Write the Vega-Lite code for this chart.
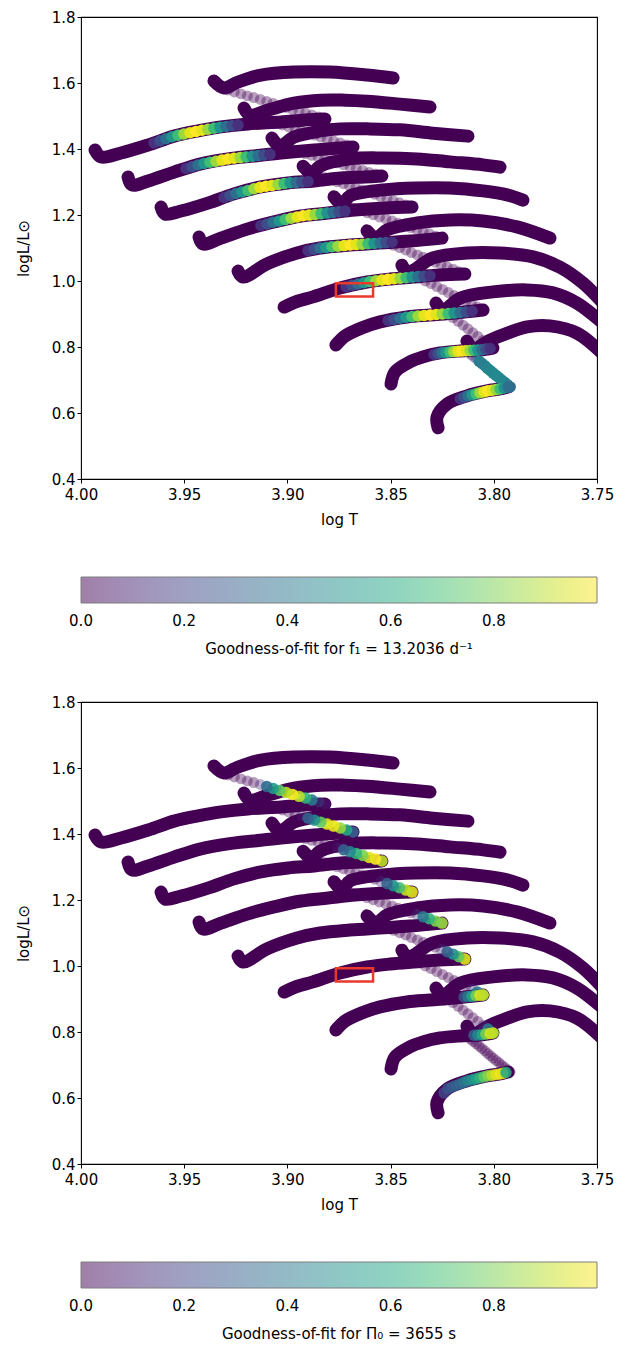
{
"$schema":"https://vega.github.io/schema/vega-lite/v6.json",
"background":"white",
"padding":{"left":15,"top":9,"right":18,"bottom":2},
"spacing":36,
"config":{"font":"DejaVu Sans","view":{"stroke":"black","strokeWidth":1.1},
"axis":{"domain":false,"grid":false,"tickColor":"black","tickSize":4,"tickWidth":1,"labelColor":"black","labelFontSize":15,"labelPadding":2,"labelFlush":false,"labelOverlap":false,"titleFontSize":15,"titleFontWeight":"normal","titleColor":"black"},
"axisX":{"titlePadding":10,"labelPadding":4},
"axisY":{"titlePadding":20},
"legend":{"labelFontSize":15,"titleFontSize":15,"titleFontWeight":"normal","labelColor":"black","titleColor":"black","titleLimit":700,"labelLimit":200}},
"datasets":{
"box":[{"T":3.8765,"T2":3.8585,"L":0.953,"L2":0.993}],
"pts":[
{"p":"L","s":"L1","i":0,"T":3.9932,"L":1.397},{"p":"L","s":"L1","i":1,"T":3.9903,"L":1.376},{"p":"L","s":"L1","i":2,"T":3.9806,"L":1.388},{"p":"L","s":"L1","i":3,"T":3.9675,"L":1.412},{"p":"L","s":"L1","i":4,"T":3.9549,"L":1.439},{"p":"L","s":"L1","i":5,"T":3.9433,"L":1.455},{"p":"L","s":"L1","i":6,"T":3.9322,"L":1.467},{"p":"L","s":"L1","i":7,"T":3.9191,"L":1.476},{"p":"L","s":"L1","i":8,"T":3.9031,"L":1.482},{"p":"L","s":"L1","i":9,"T":3.8915,"L":1.488},{"p":"L","s":"L1","i":10,"T":3.8818,"L":1.491},
{"p":"L","s":"L2","i":0,"T":3.9772,"L":1.315},{"p":"L","s":"L2","i":1,"T":3.9753,"L":1.291},{"p":"L","s":"L2","i":2,"T":3.9675,"L":1.303},{"p":"L","s":"L2","i":3,"T":3.9549,"L":1.330},{"p":"L","s":"L2","i":4,"T":3.9419,"L":1.355},{"p":"L","s":"L2","i":5,"T":3.9288,"L":1.370},{"p":"L","s":"L2","i":6,"T":3.9162,"L":1.379},{"p":"L","s":"L2","i":7,"T":3.9031,"L":1.388},{"p":"L","s":"L2","i":8,"T":3.8871,"L":1.397},{"p":"L","s":"L2","i":9,"T":3.8745,"L":1.403},{"p":"L","s":"L2","i":10,"T":3.8682,"L":1.406},
{"p":"L","s":"L3","i":0,"T":3.9612,"L":1.224},{"p":"L","s":"L3","i":1,"T":3.9593,"L":1.203},{"p":"L","s":"L3","i":2,"T":3.9516,"L":1.212},{"p":"L","s":"L3","i":3,"T":3.9385,"L":1.236},{"p":"L","s":"L3","i":4,"T":3.9259,"L":1.264},{"p":"L","s":"L3","i":5,"T":3.9128,"L":1.285},{"p":"L","s":"L3","i":6,"T":3.8997,"L":1.297},{"p":"L","s":"L3","i":7,"T":3.8871,"L":1.303},{"p":"L","s":"L3","i":8,"T":3.8740,"L":1.312},{"p":"L","s":"L3","i":9,"T":3.8624,"L":1.315},{"p":"L","s":"L3","i":10,"T":3.8542,"L":1.318},
{"p":"L","s":"L4","i":0,"T":3.9428,"L":1.133},{"p":"L","s":"L4","i":1,"T":3.9409,"L":1.112},{"p":"L","s":"L4","i":2,"T":3.9322,"L":1.130},{"p":"L","s":"L4","i":3,"T":3.9191,"L":1.158},{"p":"L","s":"L4","i":4,"T":3.9065,"L":1.179},{"p":"L","s":"L4","i":5,"T":3.8934,"L":1.197},{"p":"L","s":"L4","i":6,"T":3.8803,"L":1.206},{"p":"L","s":"L4","i":7,"T":3.8672,"L":1.215},{"p":"L","s":"L4","i":8,"T":3.8527,"L":1.221},{"p":"L","s":"L4","i":9,"T":3.8396,"L":1.224},
{"p":"L","s":"L5","i":0,"T":3.9239,"L":1.030},{"p":"L","s":"L5","i":1,"T":3.9215,"L":1.012},{"p":"L","s":"L5","i":2,"T":3.9099,"L":1.052},{"p":"L","s":"L5","i":3,"T":3.8953,"L":1.085},{"p":"L","s":"L5","i":4,"T":3.8842,"L":1.100},{"p":"L","s":"L5","i":5,"T":3.8697,"L":1.109},{"p":"L","s":"L5","i":6,"T":3.8551,"L":1.115},{"p":"L","s":"L5","i":7,"T":3.8406,"L":1.121},{"p":"L","s":"L5","i":8,"T":3.8251,"L":1.130},
{"p":"L","s":"L6","i":0,"T":3.9016,"L":0.921},{"p":"L","s":"L6","i":1,"T":3.8963,"L":0.936},{"p":"L","s":"L6","i":2,"T":3.8876,"L":0.952},{"p":"L","s":"L6","i":3,"T":3.8745,"L":0.979},{"p":"L","s":"L6","i":4,"T":3.8614,"L":0.997},{"p":"L","s":"L6","i":5,"T":3.8503,"L":1.006},{"p":"L","s":"L6","i":6,"T":3.8391,"L":1.012},{"p":"L","s":"L6","i":7,"T":3.8261,"L":1.018},{"p":"L","s":"L6","i":8,"T":3.8140,"L":1.021},
{"p":"L","s":"L7","i":0,"T":3.8765,"L":0.806},{"p":"L","s":"L7","i":1,"T":3.8721,"L":0.833},{"p":"L","s":"L7","i":2,"T":3.8639,"L":0.858},{"p":"L","s":"L7","i":3,"T":3.8551,"L":0.876},{"p":"L","s":"L7","i":4,"T":3.8421,"L":0.891},{"p":"L","s":"L7","i":5,"T":3.8309,"L":0.897},{"p":"L","s":"L7","i":6,"T":3.8188,"L":0.903},{"p":"L","s":"L7","i":7,"T":3.8052,"L":0.912},
{"p":"L","s":"L8","i":0,"T":3.8498,"L":0.688},{"p":"L","s":"L8","i":1,"T":3.8479,"L":0.724},{"p":"L","s":"L8","i":2,"T":3.8406,"L":0.755},{"p":"L","s":"L8","i":3,"T":3.8343,"L":0.770},{"p":"L","s":"L8","i":4,"T":3.8261,"L":0.782},{"p":"L","s":"L8","i":5,"T":3.8164,"L":0.788},{"p":"L","s":"L8","i":6,"T":3.8067,"L":0.791},{"p":"L","s":"L8","i":7,"T":3.8004,"L":0.797},
{"p":"L","s":"L9","i":0,"T":3.8270,"L":0.555},{"p":"L","s":"L9","i":1,"T":3.8275,"L":0.588},{"p":"L","s":"L9","i":2,"T":3.8227,"L":0.627},{"p":"L","s":"L9","i":3,"T":3.8130,"L":0.652},{"p":"L","s":"L9","i":4,"T":3.8033,"L":0.667},{"p":"L","s":"L9","i":5,"T":3.7970,"L":0.673},{"p":"L","s":"L9","i":6,"T":3.7931,"L":0.679},
{"p":"U","s":"U0","i":0,"T":3.9356,"L":1.606},{"p":"U","s":"U0","i":1,"T":3.9307,"L":1.585},{"p":"U","s":"U0","i":2,"T":3.9239,"L":1.603},{"p":"U","s":"U0","i":3,"T":3.9128,"L":1.624},{"p":"U","s":"U0","i":4,"T":3.8968,"L":1.633},{"p":"U","s":"U0","i":5,"T":3.8794,"L":1.633},{"p":"U","s":"U0","i":6,"T":3.8614,"L":1.624},{"p":"U","s":"U0","i":7,"T":3.8488,"L":1.615},
{"p":"U","s":"U1","i":0,"T":3.9210,"L":1.524},{"p":"U","s":"U1","i":1,"T":3.9181,"L":1.503},{"p":"U","s":"U1","i":2,"T":3.9094,"L":1.518},{"p":"U","s":"U1","i":3,"T":3.8968,"L":1.539},{"p":"U","s":"U1","i":4,"T":3.8837,"L":1.548},{"p":"U","s":"U1","i":5,"T":3.8721,"L":1.548},{"p":"U","s":"U1","i":6,"T":3.8614,"L":1.545},{"p":"U","s":"U1","i":7,"T":3.8454,"L":1.536},{"p":"U","s":"U1","i":8,"T":3.8309,"L":1.527},
{"p":"U","s":"U2","i":0,"T":3.9075,"L":1.433},{"p":"U","s":"U2","i":1,"T":3.9036,"L":1.409},{"p":"U","s":"U2","i":2,"T":3.8968,"L":1.436},{"p":"U","s":"U2","i":3,"T":3.8837,"L":1.455},{"p":"U","s":"U2","i":4,"T":3.8745,"L":1.461},{"p":"U","s":"U2","i":5,"T":3.8614,"L":1.461},{"p":"U","s":"U2","i":6,"T":3.8454,"L":1.458},{"p":"U","s":"U2","i":7,"T":3.8295,"L":1.448},{"p":"U","s":"U2","i":8,"T":3.8125,"L":1.439},
{"p":"U","s":"U3","i":0,"T":3.8924,"L":1.348},{"p":"U","s":"U3","i":1,"T":3.8881,"L":1.327},{"p":"U","s":"U3","i":2,"T":3.8842,"L":1.348},{"p":"U","s":"U3","i":3,"T":3.8697,"L":1.370},{"p":"U","s":"U3","i":4,"T":3.8537,"L":1.373},{"p":"U","s":"U3","i":5,"T":3.8372,"L":1.370},{"p":"U","s":"U3","i":6,"T":3.8212,"L":1.361},{"p":"U","s":"U3","i":7,"T":3.8052,"L":1.352},{"p":"U","s":"U3","i":8,"T":3.7970,"L":1.345},
{"p":"U","s":"U4","i":0,"T":3.8774,"L":1.255},{"p":"U","s":"U4","i":1,"T":3.8735,"L":1.233},{"p":"U","s":"U4","i":2,"T":3.8697,"L":1.258},{"p":"U","s":"U4","i":3,"T":3.8537,"L":1.276},{"p":"U","s":"U4","i":4,"T":3.8372,"L":1.282},{"p":"U","s":"U4","i":5,"T":3.8212,"L":1.282},{"p":"U","s":"U4","i":6,"T":3.8052,"L":1.273},{"p":"U","s":"U4","i":7,"T":3.7936,"L":1.261},{"p":"U","s":"U4","i":8,"T":3.7859,"L":1.245},
{"p":"U","s":"U5","i":0,"T":3.8614,"L":1.152},{"p":"U","s":"U5","i":1,"T":3.8571,"L":1.130},{"p":"U","s":"U5","i":2,"T":3.8517,"L":1.155},{"p":"U","s":"U5","i":3,"T":3.8372,"L":1.176},{"p":"U","s":"U5","i":4,"T":3.8212,"L":1.185},{"p":"U","s":"U5","i":5,"T":3.8052,"L":1.182},{"p":"U","s":"U5","i":6,"T":3.7888,"L":1.164},{"p":"U","s":"U5","i":7,"T":3.7728,"L":1.130},
{"p":"U","s":"U6","i":0,"T":3.8445,"L":1.048},{"p":"U","s":"U6","i":1,"T":3.8416,"L":1.027},{"p":"U","s":"U6","i":2,"T":3.8295,"L":1.070},{"p":"U","s":"U6","i":3,"T":3.8130,"L":1.085},{"p":"U","s":"U6","i":4,"T":3.7970,"L":1.085},{"p":"U","s":"U6","i":5,"T":3.7810,"L":1.073},{"p":"U","s":"U6","i":6,"T":3.7679,"L":1.042},{"p":"U","s":"U6","i":7,"T":3.7568,"L":0.994},{"p":"U","s":"U6","i":8,"T":3.7461,"L":0.927},
{"p":"U","s":"U7","i":0,"T":3.8280,"L":0.933},{"p":"U","s":"U7","i":1,"T":3.8246,"L":0.912},{"p":"U","s":"U7","i":2,"T":3.8164,"L":0.948},{"p":"U","s":"U7","i":3,"T":3.8004,"L":0.967},{"p":"U","s":"U7","i":4,"T":3.7839,"L":0.973},{"p":"U","s":"U7","i":5,"T":3.7713,"L":0.964},{"p":"U","s":"U7","i":6,"T":3.7597,"L":0.933},{"p":"U","s":"U7","i":7,"T":3.7461,"L":0.867},
{"p":"U","s":"U8","i":0,"T":3.8130,"L":0.818},{"p":"U","s":"U8","i":1,"T":3.8096,"L":0.797},{"p":"U","s":"U8","i":2,"T":3.8018,"L":0.821},{"p":"U","s":"U8","i":3,"T":3.7946,"L":0.839},{"p":"U","s":"U8","i":4,"T":3.7839,"L":0.861},{"p":"U","s":"U8","i":5,"T":3.7728,"L":0.864},{"p":"U","s":"U8","i":6,"T":3.7597,"L":0.842},{"p":"U","s":"U8","i":7,"T":3.7461,"L":0.773},
{"p":"D","T":3.8818,"L":1.491,"f1":0,"f2":0.1},{"p":"D","T":3.8849,"L":1.497,"f1":0,"f2":0.25},{"p":"D","T":3.8881,"L":1.503,"f1":0,"f2":0.4},{"p":"D","T":3.8912,"L":1.509,"f1":0,"f2":0.65},{"p":"D","T":3.8943,"L":1.514,"f1":0,"f2":0.9},{"p":"D","T":3.8975,"L":1.520,"f1":0,"f2":0.98},{"p":"D","T":3.9006,"L":1.526,"f1":0,"f2":0.9},{"p":"D","T":3.9037,"L":1.532,"f1":0,"f2":0.75},{"p":"D","T":3.9069,"L":1.538,"f1":0,"f2":0.55},{"p":"D","T":3.9100,"L":1.544,"f1":0,"f2":0.35},{"p":"D","T":3.9131,"L":1.550,"f1":0,"f2":0.15},{"p":"D","T":3.9163,"L":1.556,"f1":0,"f2":0},{"p":"D","T":3.9194,"L":1.561,"f1":0,"f2":0},{"p":"D","T":3.9225,"L":1.567,"f1":0,"f2":0},{"p":"D","T":3.9257,"L":1.573,"f1":0,"f2":0},{"p":"D","T":3.9288,"L":1.579,"f1":0,"f2":0},
{"p":"D","T":3.8682,"L":1.406,"f1":0,"f2":0.3},{"p":"D","T":3.8713,"L":1.412,"f1":0,"f2":0.6},{"p":"D","T":3.8744,"L":1.418,"f1":0,"f2":0.85},{"p":"D","T":3.8776,"L":1.424,"f1":0,"f2":0.97},{"p":"D","T":3.8807,"L":1.430,"f1":0,"f2":0.95},{"p":"D","T":3.8838,"L":1.436,"f1":0,"f2":0.75},{"p":"D","T":3.8869,"L":1.442,"f1":0,"f2":0.5},{"p":"D","T":3.8900,"L":1.448,"f1":0,"f2":0.3},{"p":"D","T":3.8932,"L":1.455,"f1":0,"f2":0.12},{"p":"D","T":3.8963,"L":1.461,"f1":0,"f2":0},{"p":"D","T":3.8994,"L":1.467,"f1":0,"f2":0},{"p":"D","T":3.9025,"L":1.473,"f1":0,"f2":0},{"p":"D","T":3.9056,"L":1.479,"f1":0,"f2":0},{"p":"D","T":3.9087,"L":1.485,"f1":0,"f2":0},{"p":"D","T":3.9119,"L":1.491,"f1":0,"f2":0},{"p":"D","T":3.9150,"L":1.497,"f1":0,"f2":0},{"p":"D","T":3.9181,"L":1.503,"f1":0,"f2":0},
{"p":"D","T":3.8542,"L":1.318,"f1":0,"f2":0.9},{"p":"D","T":3.8573,"L":1.324,"f1":0,"f2":1.0},{"p":"D","T":3.8604,"L":1.329,"f1":0,"f2":0.95},{"p":"D","T":3.8635,"L":1.335,"f1":0,"f2":0.8},{"p":"D","T":3.8666,"L":1.341,"f1":0,"f2":0.65},{"p":"D","T":3.8696,"L":1.346,"f1":0,"f2":0.45},{"p":"D","T":3.8727,"L":1.352,"f1":0,"f2":0.3},{"p":"D","T":3.8758,"L":1.358,"f1":0,"f2":0.12},{"p":"D","T":3.8789,"L":1.364,"f1":0,"f2":0},{"p":"D","T":3.8820,"L":1.369,"f1":0,"f2":0},{"p":"D","T":3.8851,"L":1.375,"f1":0,"f2":0},{"p":"D","T":3.8882,"L":1.381,"f1":0,"f2":0},{"p":"D","T":3.8913,"L":1.386,"f1":0,"f2":0},{"p":"D","T":3.8943,"L":1.392,"f1":0,"f2":0},{"p":"D","T":3.8974,"L":1.398,"f1":0,"f2":0},{"p":"D","T":3.9005,"L":1.403,"f1":0,"f2":0},{"p":"D","T":3.9036,"L":1.409,"f1":0,"f2":0},
{"p":"D","T":3.8396,"L":1.224,"f1":0,"f2":0.95},{"p":"D","T":3.8426,"L":1.230,"f1":0,"f2":0.9},{"p":"D","T":3.8457,"L":1.237,"f1":0,"f2":0.7},{"p":"D","T":3.8487,"L":1.243,"f1":0,"f2":0.5},{"p":"D","T":3.8517,"L":1.250,"f1":0,"f2":0.3},{"p":"D","T":3.8548,"L":1.256,"f1":0,"f2":0.15},{"p":"D","T":3.8578,"L":1.263,"f1":0,"f2":0},{"p":"D","T":3.8608,"L":1.269,"f1":0,"f2":0},{"p":"D","T":3.8638,"L":1.276,"f1":0,"f2":0},{"p":"D","T":3.8669,"L":1.282,"f1":0,"f2":0},{"p":"D","T":3.8699,"L":1.288,"f1":0,"f2":0},{"p":"D","T":3.8729,"L":1.295,"f1":0,"f2":0},{"p":"D","T":3.8760,"L":1.301,"f1":0,"f2":0},{"p":"D","T":3.8790,"L":1.308,"f1":0,"f2":0},{"p":"D","T":3.8820,"L":1.314,"f1":0,"f2":0},{"p":"D","T":3.8851,"L":1.321,"f1":0,"f2":0},{"p":"D","T":3.8881,"L":1.327,"f1":0,"f2":0},
{"p":"D","T":3.8251,"L":1.130,"f1":0,"f2":0.85},{"p":"D","T":3.8281,"L":1.136,"f1":0,"f2":0.8},{"p":"D","T":3.8312,"L":1.143,"f1":0,"f2":0.65},{"p":"D","T":3.8342,"L":1.149,"f1":0,"f2":0.4},{"p":"D","T":3.8372,"L":1.156,"f1":0,"f2":0.2},{"p":"D","T":3.8402,"L":1.162,"f1":0,"f2":0},{"p":"D","T":3.8433,"L":1.169,"f1":0,"f2":0},{"p":"D","T":3.8463,"L":1.175,"f1":0,"f2":0},{"p":"D","T":3.8493,"L":1.182,"f1":0,"f2":0},{"p":"D","T":3.8523,"L":1.188,"f1":0,"f2":0},{"p":"D","T":3.8554,"L":1.194,"f1":0,"f2":0},{"p":"D","T":3.8584,"L":1.201,"f1":0,"f2":0},{"p":"D","T":3.8614,"L":1.207,"f1":0,"f2":0},{"p":"D","T":3.8644,"L":1.214,"f1":0,"f2":0},{"p":"D","T":3.8675,"L":1.220,"f1":0,"f2":0},{"p":"D","T":3.8705,"L":1.227,"f1":0,"f2":0},{"p":"D","T":3.8735,"L":1.233,"f1":0,"f2":0},
{"p":"D","T":3.8140,"L":1.021,"f1":0,"f2":0.95},{"p":"D","T":3.8169,"L":1.028,"f1":0,"f2":0.75},{"p":"D","T":3.8197,"L":1.036,"f1":0,"f2":0.5},{"p":"D","T":3.8226,"L":1.043,"f1":0,"f2":0.3},{"p":"D","T":3.8255,"L":1.050,"f1":0,"f2":0.15},{"p":"D","T":3.8284,"L":1.057,"f1":0,"f2":0},{"p":"D","T":3.8312,"L":1.065,"f1":0,"f2":0},{"p":"D","T":3.8341,"L":1.072,"f1":0,"f2":0},{"p":"D","T":3.8370,"L":1.079,"f1":0,"f2":0},{"p":"D","T":3.8399,"L":1.086,"f1":0,"f2":0},{"p":"D","T":3.8427,"L":1.094,"f1":0,"f2":0},{"p":"D","T":3.8456,"L":1.101,"f1":0,"f2":0},{"p":"D","T":3.8485,"L":1.108,"f1":0,"f2":0},{"p":"D","T":3.8514,"L":1.115,"f1":0,"f2":0},{"p":"D","T":3.8542,"L":1.123,"f1":0,"f2":0},{"p":"D","T":3.8571,"L":1.130,"f1":0,"f2":0},
{"p":"D","T":3.8052,"L":0.912,"f1":0,"f2":0.8},{"p":"D","T":3.8080,"L":0.921,"f1":0,"f2":0.4},{"p":"D","T":3.8108,"L":0.930,"f1":0,"f2":0.15},{"p":"D","T":3.8136,"L":0.939,"f1":0,"f2":0},{"p":"D","T":3.8164,"L":0.947,"f1":0,"f2":0},{"p":"D","T":3.8192,"L":0.956,"f1":0,"f2":0},{"p":"D","T":3.8220,"L":0.965,"f1":0,"f2":0},{"p":"D","T":3.8248,"L":0.974,"f1":0,"f2":0},{"p":"D","T":3.8276,"L":0.983,"f1":0,"f2":0},{"p":"D","T":3.8304,"L":0.992,"f1":0,"f2":0},{"p":"D","T":3.8332,"L":1.000,"f1":0,"f2":0},{"p":"D","T":3.8360,"L":1.009,"f1":0,"f2":0},{"p":"D","T":3.8388,"L":1.018,"f1":0,"f2":0},{"p":"D","T":3.8416,"L":1.027,"f1":0,"f2":0},
{"p":"D","T":3.8004,"L":0.797,"f1":0,"f2":0.8},{"p":"D","T":3.8028,"L":0.809,"f1":0,"f2":0.4},{"p":"D","T":3.8052,"L":0.820,"f1":0,"f2":0.15},{"p":"D","T":3.8077,"L":0.832,"f1":0,"f2":0},{"p":"D","T":3.8101,"L":0.843,"f1":0,"f2":0},{"p":"D","T":3.8125,"L":0.855,"f1":0,"f2":0},{"p":"D","T":3.8149,"L":0.866,"f1":0,"f2":0},{"p":"D","T":3.8173,"L":0.878,"f1":0,"f2":0},{"p":"D","T":3.8198,"L":0.889,"f1":0,"f2":0},{"p":"D","T":3.8222,"L":0.901,"f1":0,"f2":0},{"p":"D","T":3.8246,"L":0.912,"f1":0,"f2":0},
{"p":"D","T":3.7921,"L":0.679,"f1":0.33,"f2":0},{"p":"D","T":3.7935,"L":0.686,"f1":0.38,"f2":0},{"p":"D","T":3.7948,"L":0.693,"f1":0.42,"f2":0},{"p":"D","T":3.7962,"L":0.700,"f1":0.45,"f2":0},{"p":"D","T":3.7975,"L":0.707,"f1":0.46,"f2":0},{"p":"D","T":3.7989,"L":0.714,"f1":0.47,"f2":0},{"p":"D","T":3.8003,"L":0.721,"f1":0.47,"f2":0},{"p":"D","T":3.8016,"L":0.728,"f1":0.47,"f2":0},{"p":"D","T":3.8030,"L":0.735,"f1":0.46,"f2":0},{"p":"D","T":3.8043,"L":0.743,"f1":0.45,"f2":0},{"p":"D","T":3.8057,"L":0.750,"f1":0.44,"f2":0},{"p":"D","T":3.8071,"L":0.757,"f1":0.42,"f2":0},{"p":"D","T":3.8084,"L":0.764,"f1":0.2,"f2":0},{"p":"D","T":3.8098,"L":0.771,"f1":0.15,"f2":0},{"p":"D","T":3.8111,"L":0.778,"f1":0.1,"f2":0},{"p":"D","T":3.8125,"L":0.785,"f1":0.05,"f2":0},
{"p":"H1","T":3.9646,"L":1.4185,"f1":0.135},{"p":"H1","T":3.9617,"L":1.4248,"f1":0.23},{"p":"H1","T":3.9588,"L":1.4309,"f1":0.36},{"p":"H1","T":3.9559,"L":1.4373,"f1":0.52},{"p":"H1","T":3.9530,"L":1.4418,"f1":0.69},{"p":"H1","T":3.9501,"L":1.4458,"f1":0.85},{"p":"H1","T":3.9472,"L":1.4494,"f1":0.96},{"p":"H1","T":3.9443,"L":1.4533,"f1":1.0},{"p":"H1","T":3.9414,"L":1.4567,"f1":0.96},{"p":"H1","T":3.9385,"L":1.4597,"f1":0.85},{"p":"H1","T":3.9356,"L":1.4627,"f1":0.69},{"p":"H1","T":3.9327,"L":1.4661,"f1":0.52},{"p":"H1","T":3.9297,"L":1.4685,"f1":0.36},{"p":"H1","T":3.9268,"L":1.4703,"f1":0.23},{"p":"H1","T":3.9239,"L":1.4724,"f1":0.135},
{"p":"H1","T":3.9491,"L":1.3412,"f1":0.135},{"p":"H1","T":3.9462,"L":1.3464,"f1":0.23},{"p":"H1","T":3.9433,"L":1.3518,"f1":0.36},{"p":"H1","T":3.9404,"L":1.3564,"f1":0.52},{"p":"H1","T":3.9375,"L":1.3597,"f1":0.69},{"p":"H1","T":3.9346,"L":1.3630,"f1":0.85},{"p":"H1","T":3.9317,"L":1.3664,"f1":0.96},{"p":"H1","T":3.9288,"L":1.3697,"f1":1.0},{"p":"H1","T":3.9259,"L":1.3718,"f1":0.96},{"p":"H1","T":3.9229,"L":1.3739,"f1":0.85},{"p":"H1","T":3.9200,"L":1.3760,"f1":0.69},{"p":"H1","T":3.9171,"L":1.3782,"f1":0.52},{"p":"H1","T":3.9142,"L":1.3800,"f1":0.36},{"p":"H1","T":3.9113,"L":1.3821,"f1":0.23},{"p":"H1","T":3.9084,"L":1.3842,"f1":0.135},
{"p":"H1","T":3.9307,"L":1.2530,"f1":0.135},{"p":"H1","T":3.9278,"L":1.2594,"f1":0.23},{"p":"H1","T":3.9249,"L":1.2652,"f1":0.36},{"p":"H1","T":3.9220,"L":1.2700,"f1":0.52},{"p":"H1","T":3.9191,"L":1.2745,"f1":0.69},{"p":"H1","T":3.9162,"L":1.2794,"f1":0.85},{"p":"H1","T":3.9133,"L":1.2839,"f1":0.96},{"p":"H1","T":3.9104,"L":1.2870,"f1":1.0},{"p":"H1","T":3.9075,"L":1.2897,"f1":0.96},{"p":"H1","T":3.9045,"L":1.2924,"f1":0.85},{"p":"H1","T":3.9016,"L":1.2951,"f1":0.69},{"p":"H1","T":3.8987,"L":1.2976,"f1":0.52},{"p":"H1","T":3.8958,"L":1.2988,"f1":0.36},{"p":"H1","T":3.8929,"L":1.3003,"f1":0.23},{"p":"H1","T":3.8900,"L":1.3015,"f1":0.135},
{"p":"H1","T":3.9128,"L":1.1682,"f1":0.135},{"p":"H1","T":3.9099,"L":1.1730,"f1":0.23},{"p":"H1","T":3.9070,"L":1.1779,"f1":0.36},{"p":"H1","T":3.9040,"L":1.1821,"f1":0.52},{"p":"H1","T":3.9011,"L":1.1861,"f1":0.69},{"p":"H1","T":3.8982,"L":1.1903,"f1":0.85},{"p":"H1","T":3.8953,"L":1.1942,"f1":0.96},{"p":"H1","T":3.8924,"L":1.1976,"f1":1.0},{"p":"H1","T":3.8895,"L":1.1997,"f1":0.96},{"p":"H1","T":3.8866,"L":1.2018,"f1":0.85},{"p":"H1","T":3.8837,"L":1.2036,"f1":0.69},{"p":"H1","T":3.8808,"L":1.2058,"f1":0.52},{"p":"H1","T":3.8779,"L":1.2079,"f1":0.36},{"p":"H1","T":3.8750,"L":1.2097,"f1":0.23},{"p":"H1","T":3.8721,"L":1.2118,"f1":0.135},
{"p":"H1","T":3.8900,"L":1.0921,"f1":0.135},{"p":"H1","T":3.8871,"L":1.0961,"f1":0.23},{"p":"H1","T":3.8842,"L":1.1000,"f1":0.36},{"p":"H1","T":3.8813,"L":1.1018,"f1":0.52},{"p":"H1","T":3.8784,"L":1.1036,"f1":0.69},{"p":"H1","T":3.8755,"L":1.1055,"f1":0.85},{"p":"H1","T":3.8725,"L":1.1073,"f1":0.96},{"p":"H1","T":3.8696,"L":1.1091,"f1":1.0},{"p":"H1","T":3.8667,"L":1.1103,"f1":0.96},{"p":"H1","T":3.8638,"L":1.1115,"f1":0.85},{"p":"H1","T":3.8609,"L":1.1127,"f1":0.69},{"p":"H1","T":3.8580,"L":1.1139,"f1":0.52},{"p":"H1","T":3.8551,"L":1.1152,"f1":0.36},{"p":"H1","T":3.8522,"L":1.1164,"f1":0.23},{"p":"H1","T":3.8493,"L":1.1176,"f1":0.135},
{"p":"H1","T":3.8716,"L":0.9827,"f1":0.135},{"p":"H1","T":3.8687,"L":0.9870,"f1":0.23},{"p":"H1","T":3.8658,"L":0.9909,"f1":0.36},{"p":"H1","T":3.8629,"L":0.9948,"f1":0.52},{"p":"H1","T":3.8600,"L":0.9982,"f1":0.69},{"p":"H1","T":3.8571,"L":1.0006,"f1":0.85},{"p":"H1","T":3.8542,"L":1.0030,"f1":0.96},{"p":"H1","T":3.8513,"L":1.0051,"f1":1.0},{"p":"H1","T":3.8483,"L":1.0070,"f1":0.96},{"p":"H1","T":3.8454,"L":1.0085,"f1":0.85},{"p":"H1","T":3.8425,"L":1.0100,"f1":0.69},{"p":"H1","T":3.8396,"L":1.0118,"f1":0.52},{"p":"H1","T":3.8367,"L":1.0133,"f1":0.36},{"p":"H1","T":3.8338,"L":1.0145,"f1":0.23},{"p":"H1","T":3.8309,"L":1.0161,"f1":0.135},
{"p":"H1","T":3.8512,"L":0.8803,"f1":0.135},{"p":"H1","T":3.8483,"L":0.8836,"f1":0.23},{"p":"H1","T":3.8454,"L":0.8870,"f1":0.36},{"p":"H1","T":3.8425,"L":0.8903,"f1":0.52},{"p":"H1","T":3.8396,"L":0.8921,"f1":0.69},{"p":"H1","T":3.8367,"L":0.8939,"f1":0.85},{"p":"H1","T":3.8338,"L":0.8954,"f1":0.96},{"p":"H1","T":3.8308,"L":0.8970,"f1":1.0},{"p":"H1","T":3.8279,"L":0.8985,"f1":0.96},{"p":"H1","T":3.8250,"L":0.9000,"f1":0.85},{"p":"H1","T":3.8221,"L":0.9012,"f1":0.69},{"p":"H1","T":3.8192,"L":0.9027,"f1":0.52},{"p":"H1","T":3.8163,"L":0.9045,"f1":0.36},{"p":"H1","T":3.8134,"L":0.9063,"f1":0.23},{"p":"H1","T":3.8105,"L":0.9084,"f1":0.135},
{"p":"H1","T":3.8289,"L":0.7776,"f1":0.135},{"p":"H1","T":3.8270,"L":0.7803,"f1":0.23},{"p":"H1","T":3.8251,"L":0.7824,"f1":0.36},{"p":"H1","T":3.8232,"L":0.7836,"f1":0.52},{"p":"H1","T":3.8212,"L":0.7849,"f1":0.69},{"p":"H1","T":3.8193,"L":0.7861,"f1":0.85},{"p":"H1","T":3.8173,"L":0.7873,"f1":0.96},{"p":"H1","T":3.8154,"L":0.7882,"f1":1.0},{"p":"H1","T":3.8135,"L":0.7888,"f1":0.96},{"p":"H1","T":3.8115,"L":0.7894,"f1":0.85},{"p":"H1","T":3.8096,"L":0.7900,"f1":0.69},{"p":"H1","T":3.8077,"L":0.7906,"f1":0.52},{"p":"H1","T":3.8057,"L":0.7918,"f1":0.36},{"p":"H1","T":3.8038,"L":0.7936,"f1":0.23},{"p":"H1","T":3.8018,"L":0.7954,"f1":0.135},
{"p":"H1","T":3.8163,"L":0.6430,"f1":0.135},{"p":"H1","T":3.8144,"L":0.6479,"f1":0.23},{"p":"H1","T":3.8125,"L":0.6521,"f1":0.36},{"p":"H1","T":3.8105,"L":0.6551,"f1":0.52},{"p":"H1","T":3.8086,"L":0.6582,"f1":0.69},{"p":"H1","T":3.8067,"L":0.6612,"f1":0.85},{"p":"H1","T":3.8047,"L":0.6642,"f1":0.96},{"p":"H1","T":3.8028,"L":0.6673,"f1":1.0},{"p":"H1","T":3.8008,"L":0.6691,"f1":0.96},{"p":"H1","T":3.7989,"L":0.6709,"f1":0.85},{"p":"H1","T":3.7970,"L":0.6727,"f1":0.69},{"p":"H1","T":3.7950,"L":0.6758,"f1":0.52},{"p":"H1","T":3.7931,"L":0.6788,"f1":0.36},
{"p":"H2","T":3.8144,"L":0.9061,"f2":0.25},{"p":"H2","T":3.8125,"L":0.9073,"f2":0.4},{"p":"H2","T":3.8105,"L":0.9084,"f2":0.6},{"p":"H2","T":3.8086,"L":0.9100,"f2":0.8},{"p":"H2","T":3.8067,"L":0.9112,"f2":0.95},{"p":"H2","T":3.8052,"L":0.9121,"f2":0.9},
{"p":"H2","T":3.8096,"L":0.7900,"f2":0.3},{"p":"H2","T":3.8077,"L":0.7906,"f2":0.45},{"p":"H2","T":3.8057,"L":0.7918,"f2":0.6},{"p":"H2","T":3.8038,"L":0.7936,"f2":0.8},{"p":"H2","T":3.8018,"L":0.7954,"f2":0.95},{"p":"H2","T":3.8004,"L":0.7970,"f2":0.9},
{"p":"H2","T":3.8241,"L":0.6155,"f2":0.2},{"p":"H2","T":3.8222,"L":0.6285,"f2":0.25},{"p":"H2","T":3.8202,"L":0.6333,"f2":0.28},{"p":"H2","T":3.8183,"L":0.6382,"f2":0.3},{"p":"H2","T":3.8163,"L":0.6430,"f2":0.33},{"p":"H2","T":3.8144,"L":0.6479,"f2":0.38},{"p":"H2","T":3.8125,"L":0.6521,"f2":0.45},{"p":"H2","T":3.8105,"L":0.6551,"f2":0.5},{"p":"H2","T":3.8086,"L":0.6582,"f2":0.58},{"p":"H2","T":3.8067,"L":0.6612,"f2":0.65},{"p":"H2","T":3.8047,"L":0.6642,"f2":0.75},{"p":"H2","T":3.8028,"L":0.6673,"f2":0.82},{"p":"H2","T":3.8008,"L":0.6691,"f2":0.9},{"p":"H2","T":3.7989,"L":0.6709,"f2":0.95},{"p":"H2","T":3.7970,"L":0.6727,"f2":0.98},{"p":"H2","T":3.7955,"L":0.6748,"f2":0.95},{"p":"H2","T":3.7941,"L":0.6773,"f2":0.6}
]},
"resolve":{"scale":{"color":"independent","x":"independent","y":"independent"}},
"vconcat":[
{"width":516,"height":462,
"encoding":{"x":{"field":"T","type":"quantitative","scale":{"domain":[3.75,4.0],"reverse":true,"nice":false,"zero":false},"axis":{"title":"log T","values":[4.0,3.95,3.9,3.85,3.8,3.75],"format":".2f"}},
"y":{"field":"L","type":"quantitative","scale":{"domain":[0.4,1.8],"nice":false,"zero":false},"axis":{"title":"logL/L⊙","values":[0.4,0.6,0.8,1.0,1.2,1.4,1.6,1.8],"format":".1f"}}},
"layer":[
{"data":{"name":"pts"},"transform":[{"filter":"datum.p==='L'||datum.p==='U'"}],"mark":{"type":"line","color":"#440154","strokeWidth":13,"strokeCap":"round","strokeJoin":"round","interpolate":"catmull-rom","clip":true},"encoding":{"detail":{"field":"s","type":"nominal"},"order":{"field":"i","type":"quantitative"}}},
{"data":{"name":"pts"},"transform":[{"filter":"datum.p==='D'"}],"mark":{"type":"circle","size":120,"opacity":0.38,"clip":true},"encoding":{"color":{"field":"f1","type":"quantitative","scale":{"scheme":"viridis","domain":[0,1]},"legend":{"title":"Goodness-of-fit for f₁ = 13.2036 d⁻¹","orient":"bottom","direction":"horizontal","gradientLength":516,"gradientThickness":26,"gradientOpacity":0.5,"gradientStrokeColor":"black","gradientStrokeWidth":1,"values":[0,0.2,0.4,0.6,0.8],"format":".1f","labelOverlap":false,"labelOffset":11,"titleOrient":"bottom","titleAnchor":"middle","titlePadding":13,"offset":50,"encode":{"labels":{"update":{"align":{"value":"center"}}}}}}}},
{"data":{"name":"pts"},"transform":[{"filter":"datum.p==='H1'||(datum.p==='D'&&datum.f1>0.25)"}],"mark":{"type":"circle","size":132,"opacity":1,"clip":true},"encoding":{"color":{"field":"f1","type":"quantitative","scale":{"scheme":"viridis","domain":[0,1]},"legend":{"title":"Goodness-of-fit for f₁ = 13.2036 d⁻¹","orient":"bottom","direction":"horizontal","gradientLength":516,"gradientThickness":26,"gradientOpacity":0.5,"gradientStrokeColor":"black","gradientStrokeWidth":1,"values":[0,0.2,0.4,0.6,0.8],"format":".1f","labelOverlap":false,"labelOffset":11,"titleOrient":"bottom","titleAnchor":"middle","titlePadding":13,"offset":50,"encode":{"labels":{"update":{"align":{"value":"center"}}}}}}}},
{"data":{"name":"box"},"mark":{"type":"rect","filled":false,"stroke":"#e8392b","strokeWidth":2.5},"encoding":{"x2":{"field":"T2"},"y2":{"field":"L2"}}}
]},
{"width":516,"height":462,
"encoding":{"x":{"field":"T","type":"quantitative","scale":{"domain":[3.75,4.0],"reverse":true,"nice":false,"zero":false},"axis":{"title":"log T","values":[4.0,3.95,3.9,3.85,3.8,3.75],"format":".2f"}},
"y":{"field":"L","type":"quantitative","scale":{"domain":[0.4,1.8],"nice":false,"zero":false},"axis":{"title":"logL/L⊙","values":[0.4,0.6,0.8,1.0,1.2,1.4,1.6,1.8],"format":".1f"}}},
"layer":[
{"data":{"name":"pts"},"transform":[{"filter":"datum.p==='L'||datum.p==='U'"}],"mark":{"type":"line","color":"#440154","strokeWidth":13,"strokeCap":"round","strokeJoin":"round","interpolate":"catmull-rom","clip":true},"encoding":{"detail":{"field":"s","type":"nominal"},"order":{"field":"i","type":"quantitative"}}},
{"data":{"name":"pts"},"transform":[{"filter":"datum.p==='D'"}],"mark":{"type":"circle","size":120,"opacity":0.38,"clip":true},"encoding":{"color":{"field":"f2","type":"quantitative","scale":{"scheme":"viridis","domain":[0,1]},"legend":{"title":"Goodness-of-fit for Π₀ = 3655 s","orient":"bottom","direction":"horizontal","gradientLength":516,"gradientThickness":26,"gradientOpacity":0.5,"gradientStrokeColor":"black","gradientStrokeWidth":1,"values":[0,0.2,0.4,0.6,0.8],"format":".1f","labelOverlap":false,"labelOffset":11,"titleOrient":"bottom","titleAnchor":"middle","titlePadding":13,"offset":50,"encode":{"labels":{"update":{"align":{"value":"center"}}}}}}}},
{"data":{"name":"pts"},"transform":[{"filter":"datum.p==='H2'||(datum.p==='D'&&datum.f2>0.25)"}],"mark":{"type":"circle","size":132,"opacity":0.85,"clip":true},"encoding":{"color":{"field":"f2","type":"quantitative","scale":{"scheme":"viridis","domain":[0,1]},"legend":{"title":"Goodness-of-fit for Π₀ = 3655 s","orient":"bottom","direction":"horizontal","gradientLength":516,"gradientThickness":26,"gradientOpacity":0.5,"gradientStrokeColor":"black","gradientStrokeWidth":1,"values":[0,0.2,0.4,0.6,0.8],"format":".1f","labelOverlap":false,"labelOffset":11,"titleOrient":"bottom","titleAnchor":"middle","titlePadding":13,"offset":50,"encode":{"labels":{"update":{"align":{"value":"center"}}}}}}}},
{"data":{"name":"box"},"mark":{"type":"rect","filled":false,"stroke":"#e8392b","strokeWidth":2.5},"encoding":{"x2":{"field":"T2"},"y2":{"field":"L2"}}}
]}
]}
